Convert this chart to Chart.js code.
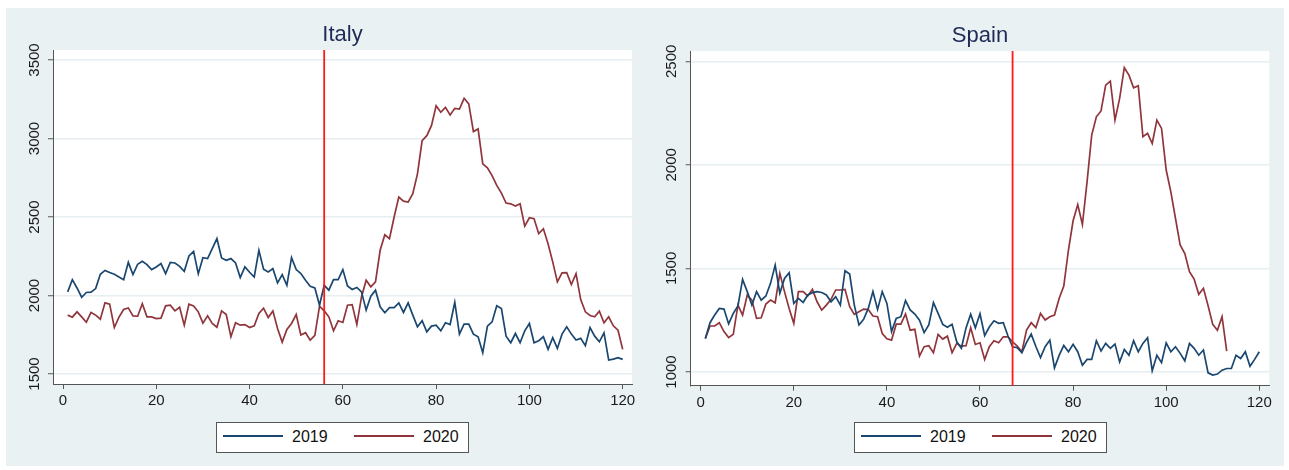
<!DOCTYPE html>
<html><head><meta charset="utf-8">
<script src="https://cdn.jsdelivr.net/npm/chart.js@4"></script>
<style>
html,body{margin:0;padding:0;background:#fff;}
#wrap{position:relative;width:1289px;height:470px;overflow:hidden;background:#fff;}
#bg{position:absolute;left:6px;top:8px;width:1278px;height:458px;background:#eaf1f3;}
canvas{position:absolute;top:0;}
.legend{position:absolute;box-sizing:border-box;width:253px;height:31px;background:#fff;border:1.5px solid #555;font:16px "Liberation Sans",Arial,sans-serif;color:#111;}
.legend .ln{position:absolute;top:12px;height:2px;width:60px;}
.legend .tx{position:absolute;top:4px;line-height:20px;}
</style></head>
<body>
<div id="wrap">
  <div id="bg"></div>
  <canvas id="italy" width="648" height="470" style="left:0px"></canvas>
  <canvas id="spain" width="641" height="470" style="left:648px"></canvas>
  <div class="legend" id="legItaly" style="left:216px;top:422px"></div>
  <div class="legend" id="legSpain" style="left:854px;top:422px"></div>
</div>
<script>
const days = [1,2,3,4,5,6,7,8,9,10,11,12,13,14,15,16,17,18,19,20,21,22,23,24,25,26,27,28,29,30,
31,32,33,34,35,36,37,38,39,40,41,42,43,44,45,46,47,48,49,50,51,52,53,54,55,56,57,58,59,60,
61,62,63,64,65,66,67,68,69,70,71,72,73,74,75,76,77,78,79,80,81,82,83,84,85,86,87,88,89,90,
91,92,93,94,95,96,97,98,99,100,101,102,103,104,105,106,107,108,109,110,111,112,113,114,115,116,117,118,119,120];
const seriesNames = ['2019','2020'];
const italy2019 = [2023,2101,2048,1989,2019,2021,2044,2135,2160,2146,2135,2118,2101,2211,2133,2199,2218,2197,2165,2182,
2203,2139,2211,2207,2186,2154,2252,2281,2139,2241,2235,2298,2362,2239,2224,2235,2207,2114,2182,2148,
2118,2288,2167,2150,2171,2080,2133,2065,2241,2165,2140,2097,2059,2048,1938,2065,2034,2101,2101,2165,
2061,2038,2051,2023,1907,1996,2034,1928,1890,1923,1923,1953,1892,1953,1875,1801,1839,1769,1805,1811,
1775,1826,1815,1957,1754,1818,1818,1754,1737,1635,1805,1832,1934,1917,1741,1699,1758,1699,1775,1822,
1699,1712,1737,1657,1731,1663,1754,1801,1754,1716,1727,1680,1796,1741,1705,1762,1589,1595,1604,1593];
const italy2020 = [1875,1862,1896,1864,1830,1892,1875,1849,1953,1945,1796,1862,1911,1921,1870,1868,1947,1864,1864,1853,
1856,1934,1938,1902,1925,1811,1945,1934,1896,1824,1870,1822,1798,1902,1879,1737,1826,1811,1815,1796,
1807,1885,1919,1860,1902,1790,1703,1784,1822,1879,1748,1763,1716,1746,1932,1902,1864,1775,1839,1828,
1938,1942,1815,1991,2097,2055,2087,2288,2387,2362,2500,2627,2601,2595,2648,2775,2987,3018,3082,3209,
3167,3198,3150,3192,3188,3256,3220,3044,3061,2838,2813,2764,2701,2652,2589,2584,2570,2584,2442,2495,
2489,2394,2425,2330,2214,2087,2144,2146,2070,2139,1974,1896,1873,1864,1900,1826,1864,1807,1779,1657];
const spain2019 = [1162,1238,1275,1307,1304,1232,1283,1319,1447,1388,1323,1388,1347,1367,1428,1516,1380,1452,1479,1331,
1355,1336,1372,1383,1388,1384,1372,1339,1364,1323,1489,1473,1323,1227,1254,1307,1388,1302,1388,1331,
1195,1259,1267,1345,1300,1280,1250,1190,1227,1335,1283,1230,1216,1230,1146,1115,1213,1279,1213,1281,
1176,1217,1247,1235,1238,1175,1122,1117,1093,1143,1183,1123,1070,1122,1154,1020,1080,1128,1098,1134,
1098,1033,1061,1061,1151,1102,1138,1114,1135,1049,1109,1081,1151,1098,1138,1165,1006,1081,1045,1141,
1098,1122,1090,1054,1138,1114,1081,1106,996,985,990,1009,1017,1017,1081,1065,1098,1028,1061,1098];
const spain2020 = [1162,1222,1222,1238,1195,1166,1182,1323,1275,1372,1347,1259,1262,1328,1347,1334,1476,1388,1307,1235,
1388,1388,1367,1399,1339,1299,1323,1351,1396,1396,1399,1315,1278,1291,1304,1302,1270,1267,1186,1160,
1154,1231,1231,1280,1202,1206,1077,1122,1127,1093,1182,1159,1173,1093,1138,1125,1127,1214,1133,1141,
1061,1122,1151,1141,1170,1170,1146,1125,1098,1202,1238,1214,1283,1251,1267,1275,1355,1415,1589,1730,
1808,1712,1918,2144,2232,2260,2385,2404,2216,2321,2469,2433,2372,2382,2136,2152,2103,2216,2176,1975,
1870,1741,1613,1572,1484,1449,1375,1404,1320,1230,1202,1267,1101];
const xTicks = [0,20,40,60,80,100,120];
const italyYTicks = [1500,2000,2500,3000,3500];
const spainYTicks = [1000,1500,2000,2500];
const italyLockdownDay = 56;
const spainLockdownDay = 67;

const FONT = '"Liberation Sans", Arial, Helvetica, sans-serif';
const C2019 = '#1a476f', C2020 = '#90353b';
Chart.defaults.font.family = FONT;

const panelPlugin = {
  id: 'panel',
  beforeDraw(chart) {
    const {ctx, chartArea: a} = chart;
    ctx.save(); ctx.fillStyle = '#ffffff';
    ctx.fillRect(a.left, a.top, a.right - a.left, a.bottom - a.top);
    ctx.restore();
  },
  afterDatasetsDraw(chart, args, opts) {
    const {ctx, chartArea: a} = chart;
    const x = chart.scales.x.getPixelForValue(opts.vline);
    ctx.save(); ctx.strokeStyle = '#ff1a1a'; ctx.lineWidth = 1.8;
    ctx.beginPath(); ctx.moveTo(x, a.top); ctx.lineTo(x, a.bottom); ctx.stroke();
    ctx.restore();
  },
  afterDraw(chart, args, opts) {
    const {ctx} = chart; const ys = chart.scales.y;
    ctx.save(); ctx.fillStyle = '#1a1a1a'; ctx.font = '15px ' + FONT;
    ctx.textAlign = 'center'; ctx.textBaseline = 'middle';
    ys.ticks.forEach(t => {
      const y = ys.getPixelForValue(t.value);
      ctx.save(); ctx.translate(ys.right - opts.labelOffset, y); ctx.rotate(-Math.PI / 2);
      ctx.fillText(String(t.value), 0, 0); ctx.restore();
    });
    ctx.restore();
  }
};

function toXY(vals) { return vals.map((v, i) => ({x: days[i], y: v})); }

function makeChart(id, title, s19, s20, yTicks, ymin, ymax, xmin, xmax, vline, yWidth, pad, titlePad, labelOffset) {
  return new Chart(document.getElementById(id), {
    type: 'line',
    data: { datasets: [
      {label: seriesNames[0], data: toXY(s19), borderColor: C2019, borderWidth: 1.7, pointRadius: 0, tension: 0, fill: false},
      {label: seriesNames[1], data: toXY(s20), borderColor: C2020, borderWidth: 1.7, pointRadius: 0, tension: 0, fill: false}
    ]},
    options: {
      responsive: false, animation: false, devicePixelRatio: 1,
      layout: {padding: pad},
      plugins: {
        legend: {display: false}, tooltip: {enabled: false},
        title: {display: true, text: title, fullSize: false, color: '#1e2b56',
          font: {size: 22, weight: 'normal', family: FONT}, padding: titlePad},
        panel: {vline: vline, labelOffset: labelOffset}
      },
      scales: {
        x: {type: 'linear', min: xmin, max: xmax,
          afterBuildTicks: s => { s.ticks = xTicks.map(v => ({value: v})); },
          afterFit: s => { s.height = 30; },
          ticks: {font: {size: 15}, color: '#1a1a1a', padding: 3, maxRotation: 0, autoSkip: false, callback: v => String(v)},
          grid: {drawOnChartArea: false, drawTicks: true, tickLength: 5, tickColor: '#555', tickWidth: 1},
          border: {display: true, color: '#555', width: 1}
        },
        y: {type: 'linear', min: ymin, max: ymax,
          afterBuildTicks: s => { s.ticks = yTicks.map(v => ({value: v})); },
          afterFit: s => { s.width = yWidth; },
          ticks: {display: false},
          grid: {color: '#e6eef1', lineWidth: 1.5, drawTicks: true, tickLength: 5, tickColor: '#555', tickWidth: 1},
          border: {display: true, color: '#555', width: 1}
        }
      }
    },
    plugins: [panelPlugin]
  });
}

makeChart('italy', 'Italy', italy2019, italy2020, italyYTicks, 1436.3, 3563.7, -2.147, 122.0, italyLockdownDay,
  53, {left: 0, right: 16, top: 0, bottom: 56}, {top: 21.8, bottom: 1.8}, 18);
makeChart('spain', 'Spain', spain2019, spain2020, spainYTicks, 933.9, 2549.7, -2.148, 122.15, spainLockdownDay,
  42.7, {left: 0, right: 19.7, top: 0, bottom: 54.3}, {top: 22.5, bottom: 2.1}, 19);

function buildLegend(id) {
  const el = document.getElementById(id);
  const items = [
    {c: C2019, t: seriesNames[0], l: 6, tx: 75},
    {c: C2020, t: seriesNames[1], l: 137, tx: 206}
  ];
  items.forEach(it => {
    const ln = document.createElement('div'); ln.className = 'ln';
    ln.style.left = it.l + 'px'; ln.style.background = it.c; el.appendChild(ln);
    const tx = document.createElement('div'); tx.className = 'tx';
    tx.style.left = it.tx + 'px'; tx.textContent = it.t; el.appendChild(tx);
  });
}
buildLegend('legItaly');
buildLegend('legSpain');
</script>
</body></html>
